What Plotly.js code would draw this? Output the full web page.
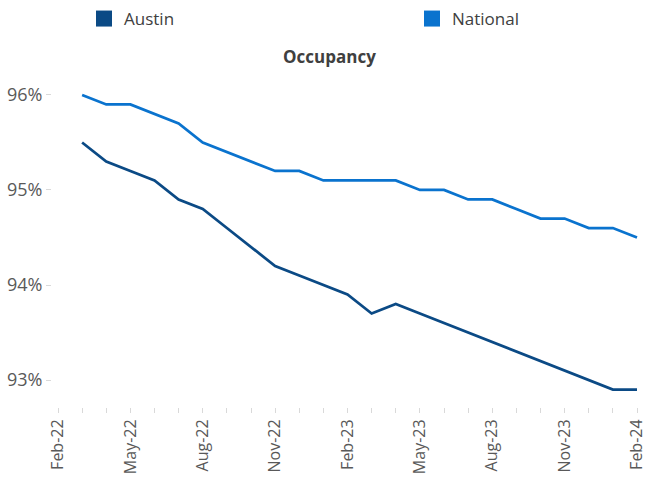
<!DOCTYPE html>
<html>
<head>
<meta charset="utf-8">
<script src="https://cdn.plot.ly/plotly-3.0.1.min.js"></script>
<style>html,body{margin:0;padding:0;background:#fff;}#chart{width:646px;height:480px;}</style>
</head>
<body>
<div id="chart"></div>
<script>
// Axis categories (monthly)
const axisMonths = ['Feb-22','Mar-22','Apr-22','May-22','Jun-22','Jul-22','Aug-22','Sep-22','Oct-22','Nov-22','Dec-22',
  'Jan-23','Feb-23','Mar-23','Apr-23','May-23','Jun-23','Jul-23','Aug-23','Sep-23','Oct-23','Nov-23','Dec-23','Jan-24','Feb-24'];
// Data months
const months = axisMonths.slice(1);
// Occupancy (%)
const austin = [95.5,95.3,95.2,95.1,94.9,94.8,94.6,94.4,94.2,94.1,94.0,93.9,93.7,93.8,93.7,93.6,93.5,93.4,93.3,93.2,93.1,93.0,92.9,92.9];
const national = [96.0,95.9,95.9,95.8,95.7,95.5,95.4,95.3,95.2,95.2,95.1,95.1,95.1,95.1,95.0,95.0,94.9,94.9,94.8,94.7,94.7,94.6,94.6,94.5];
const labeledMonths = ['Feb-22','May-22','Aug-22','Nov-22','Feb-23','May-23','Aug-23','Nov-23','Feb-24'];
const yTicks = [93,94,95,96];

const cAustin = '#0B4A85';
const cNational = '#0A73CE';
const font = '"Open Sans", "Noto Sans", sans-serif';

const traces = [
  {x: months, y: austin, type: 'scatter', mode: 'lines', name: 'Austin', line: {color: cAustin, width: 2.75}, showlegend: false},
  {x: months, y: national, type: 'scatter', mode: 'lines', name: 'National', line: {color: cNational, width: 2.75}, showlegend: false},
  {x: [null], y: [null], type: 'scatter', mode: 'markers', name: 'Austin', marker: {symbol: 'square', size: 16, color: cAustin}, legend: 'legend'},
  {x: [null], y: [null], type: 'scatter', mode: 'markers', name: 'National', marker: {symbol: 'square', size: 16, color: cNational}, legend: 'legend2'}
];

const layout = {
  width: 646, height: 480,
  margin: {l: 52, r: 0, t: 66, b: 73},
  paper_bgcolor: '#fff', plot_bgcolor: '#fff',
  font: {family: font, color: '#595959'},
  title: {text: '<b>Occupancy</b>', font: {family: font, size: 17, color: '#404040'},
    x: 329.5/646, xref: 'container', xanchor: 'center', y: 1 - 57/480, yref: 'container', yanchor: 'middle'},
  xaxis: {
    type: 'category', categoryorder: 'array', categoryarray: axisMonths,
    range: [-0.2487, 24.373],
    tickmode: 'array', tickvals: axisMonths,
    ticktext: axisMonths.map(m => labeledMonths.includes(m) ? m : ''),
    tickangle: -90, ticks: 'outside', ticklen: 5, tickcolor: '#d9d9d9', tickwidth: 1,
    tickfont: {family: font, size: 16, color: '#595959'},
    showgrid: false, showline: false, zeroline: false, fixedrange: true
  },
  yaxis: {
    range: [92.716, 96.305],
    tickmode: 'array', tickvals: yTicks, ticktext: yTicks.map(v => v + '%'),
    ticks: 'outside', ticklen: 5, tickcolor: '#d9d9d9', tickwidth: 1,
    tickfont: {family: font, size: 18, color: '#595959'},
    showgrid: false, showline: false, zeroline: false, fixedrange: true
  },
  legend: {x: 84/646, xref: 'container', xanchor: 'left', y: 1 - 1/480, yref: 'container', yanchor: 'top',
    orientation: 'h', font: {family: font, size: 17, color: '#404040'}, bgcolor: 'rgba(0,0,0,0)'},
  legend2: {x: 412/646, xref: 'container', xanchor: 'left', y: 1 - 1/480, yref: 'container', yanchor: 'top',
    orientation: 'h', font: {family: font, size: 17, color: '#404040'}, bgcolor: 'rgba(0,0,0,0)'},
  showlegend: true
};

Plotly.newPlot('chart', traces, layout, {displayModeBar: false, staticPlot: true});
</script>
</body>
</html>
